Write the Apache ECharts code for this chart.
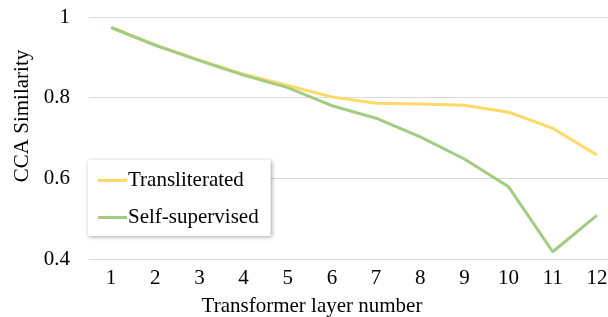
<!DOCTYPE html>
<html><head><meta charset="utf-8">
<script src="https://cdn.jsdelivr.net/npm/echarts@6/dist/echarts.min.js"></script>
<style>html,body{margin:0;padding:0;background:#fff}#c{width:608px;height:317px}</style>
</head><body><div id="c"></div>
<script>
const layers = ['1','2','3','4','5','6','7','8','9','10','11','12'];
const transliterated = [0.974, 0.931, 0.893, 0.858, 0.830, 0.802, 0.786, 0.784, 0.781, 0.764, 0.724, 0.658];
const selfSupervised = [0.974, 0.930, 0.892, 0.856, 0.825, 0.780, 0.749, 0.703, 0.648, 0.579, 0.418, 0.508];
const yTicks = [0.4, 0.6, 0.8, 1];
const font = 'Liberation Serif';
const chart = echarts.init(document.getElementById('c'));
chart.setOption({
  animation: false,
  grid: {left: 89, top: 17, width: 530, height: 242, containLabel: false, outerBoundsMode: 'none'},
  xAxis: {
    type: 'category', data: layers, boundaryGap: true,
    name: 'Transformer layer number', nameLocation: 'middle', nameGap: 37,
    nameTextStyle: {fontFamily: font, fontSize: 21, color: '#000', padding: [0, 84, 0, 0]},
    axisLine: {show: false}, axisTick: {show: false},
    axisLabel: {fontFamily: font, fontSize: 21, color: '#000', margin: 9}
  },
  yAxis: {
    type: 'value', min: 0.4, max: 1, interval: 0.2,
    name: 'CCA Similarity', nameLocation: 'middle', nameGap: 56, nameRotate: 90,
    nameTextStyle: {fontFamily: font, fontSize: 21, color: '#000', padding: [0, 0, 0, 44]},
    axisLine: {show: false}, axisTick: {show: false},
    splitLine: {lineStyle: {color: '#d9d9d9', width: 1}},
    axisLabel: {fontFamily: font, fontSize: 21, color: '#000', margin: 19,
      formatter: v => yTicks.includes(Math.round(v*10)/10) ? String(Math.round(v*10)/10) : ''}
  },
  legend: {
    left: 88, top: 160, orient: 'vertical',
    backgroundColor: '#fff', borderWidth: 0,
    shadowColor: 'rgba(0,0,0,0.35)', shadowBlur: 4, shadowOffsetX: 1, shadowOffsetY: 1,
    padding: [10, 12, 8, 10], itemGap: 16, itemWidth: 29, itemHeight: 3,
    icon: 'rect',
    textStyle: {fontFamily: font, fontSize: 21, color: '#000', padding: [0,0,0,-4]},
    data: ['Transliterated', 'Self-supervised']
  },
  series: [
    {name: 'Transliterated', type: 'line', data: transliterated, symbol: 'none',
     lineStyle: {color: '#FFD966', width: 3}, itemStyle: {color: '#FFD966'}},
    {name: 'Self-supervised', type: 'line', data: selfSupervised, symbol: 'none',
     lineStyle: {color: '#A3CC83', width: 3}, itemStyle: {color: '#A3CC83'}}
  ]
});
</script></body></html>
